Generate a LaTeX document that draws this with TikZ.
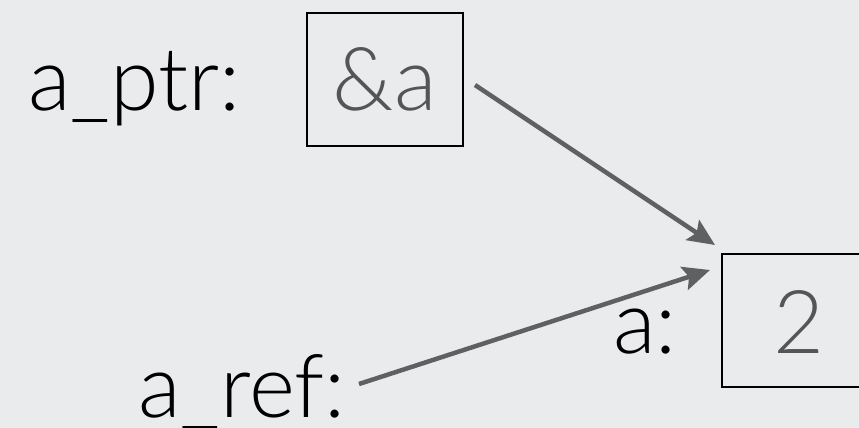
\documentclass[tikz,border=0pt]{standalone}
\usepackage{fontspec}
\setmainfont{Lato Light}
\usetikzlibrary{arrows.meta}
\definecolor{bg}{HTML}{E9EBED}
\definecolor{arr}{HTML}{5E6061}
\definecolor{val}{HTML}{555555}
\tikzset{
  lbl/.style={anchor=base west, inner sep=0pt, font=\fontsize{88}{100}\selectfont, text=black},
  valtxt/.style={anchor=base, inner sep=0pt, font=\fontsize{88}{100}\selectfont, text=val},
  cell/.style={draw=black, line width=2pt, minimum width=156pt, minimum height=133pt, inner sep=0pt},
  ptrarrow/.style={draw=arr, line width=4.5pt, -{Stealth[length=27pt,width=24pt,inset=5pt]}}
}
\begin{document}
\begin{tikzpicture}[x=1pt,y=-1pt]
\useasboundingbox[fill=bg] (0,0) rectangle (859,428);
\node[cell] (box1) at (385,79.5) {};
\node[cell] (box2) at (799.5,320.5) {};
\node[valtxt] (v1) at (385,110) {\&a};
\node[valtxt] (v2) at (799.5,353) {2};
\node[lbl] (lptr) at (28,110) {a\_ptr:};
\node[lbl] (la) at (613,353) {a:};
\node[lbl] (lref) at (138,417) {a\_ref:};
\coordinate (s1) at (475,85);
\coordinate (t1) at (715,245);
\coordinate (s2) at (359,384);
\coordinate (t2) at (710,270);
\draw[ptrarrow] (s1) -- (t1);
\draw[ptrarrow] (s2) -- (t2);
\end{tikzpicture}
\end{document}
